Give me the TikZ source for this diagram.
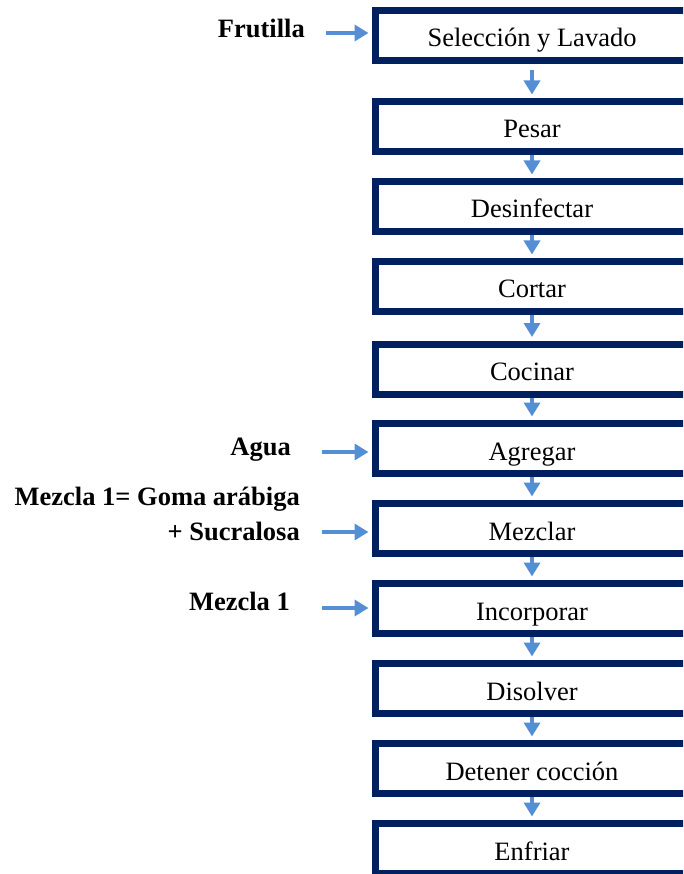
\documentclass[tikz,border=0pt]{standalone}
\usepackage{fontspec}
\setmainfont{Liberation Serif}
\usetikzlibrary{arrows.meta}
\definecolor{marino}{HTML}{002060}
\definecolor{celeste}{HTML}{558ED5}
\begin{document}
\begin{tikzpicture}[x=1pt,y=-1pt, font=\fontsize{26.5}{35}\selectfont, line join=miter,
	caja/.style={draw=marino, line width=7pt, fill=white, minimum width=313pt, minimum height=50pt, inner sep=0pt, text height=23pt, text depth=0pt},
	flecha/.style={draw=celeste, line width=3.5pt, -{Triangle[length=14pt,width=16pt]}, shorten >=3.5pt},
	etiqueta/.style={font=\fontsize{26.5}{35}\selectfont\bfseries, inner sep=0pt, anchor=base east, align=right}]
				\useasboundingbox (0,0) rectangle (683,874);
				\clip (0,0) rectangle (683,874);
				% pasos del proceso
				\node[caja] (seleccion) at (532,35.5) {Selección y Lavado};
				\node[caja] (pesar) at (532,126.5) {Pesar};
				\node[caja] (desinfectar) at (532,206.5) {Desinfectar};
				\node[caja] (cortar) at (532,286.5) {Cortar};
				\node[caja] (cocinar) at (532,369) {Cocinar};
				\node[caja] (agregar) at (532,448.5) {Agregar};
				\node[caja] (mezclar) at (532,528.5) {Mezclar};
				\node[caja] (incorporar) at (532,608.5) {Incorporar};
				\node[caja] (disolver) at (532,688.5) {Disolver};
				\node[caja] (detener) at (532,768.5) {Detener cocción};
				\node[caja] (enfriar) at (532,848.5) {Enfriar};
				% entradas
				\node[etiqueta] (frutilla) at (305,38) {Frutilla};
				\node[etiqueta] (agua) at (291,455) {Agua};
				\node[etiqueta] (mezcla) at (300,540) {Mezcla 1= Goma arábiga\\+ Sucralosa};
				\node[etiqueta] (mezclauno) at (290,610) {Mezcla 1};
				\coordinate (inFrutilla) at (326,33);
				\coordinate (inAgua) at (322,452);
				\coordinate (inMezcla) at (322,532);
				\coordinate (inMezclauno) at (322,608);
				\draw[flecha] (inFrutilla) -- (inFrutilla -| seleccion.west);
				\draw[flecha] (inAgua) -- (inAgua -| agregar.west);
				\draw[flecha] (inMezcla) -- (inMezcla -| mezclar.west);
				\draw[flecha] (inMezclauno) -- (inMezclauno -| incorporar.west);
				% flechas entre pasos
				\draw[flecha, shorten <=6pt] (seleccion) -- (pesar);
				\draw[flecha] (pesar) -- (desinfectar);
				\draw[flecha] (desinfectar) -- (cortar);
				\draw[flecha] (cortar) -- (cocinar);
				\draw[flecha] (cocinar) -- (agregar);
				\draw[flecha] (agregar) -- (mezclar);
				\draw[flecha] (mezclar) -- (incorporar);
				\draw[flecha] (incorporar) -- (disolver);
				\draw[flecha] (disolver) -- (detener);
				\draw[flecha] (detener) -- (enfriar);
			\end{tikzpicture}
\end{document}
